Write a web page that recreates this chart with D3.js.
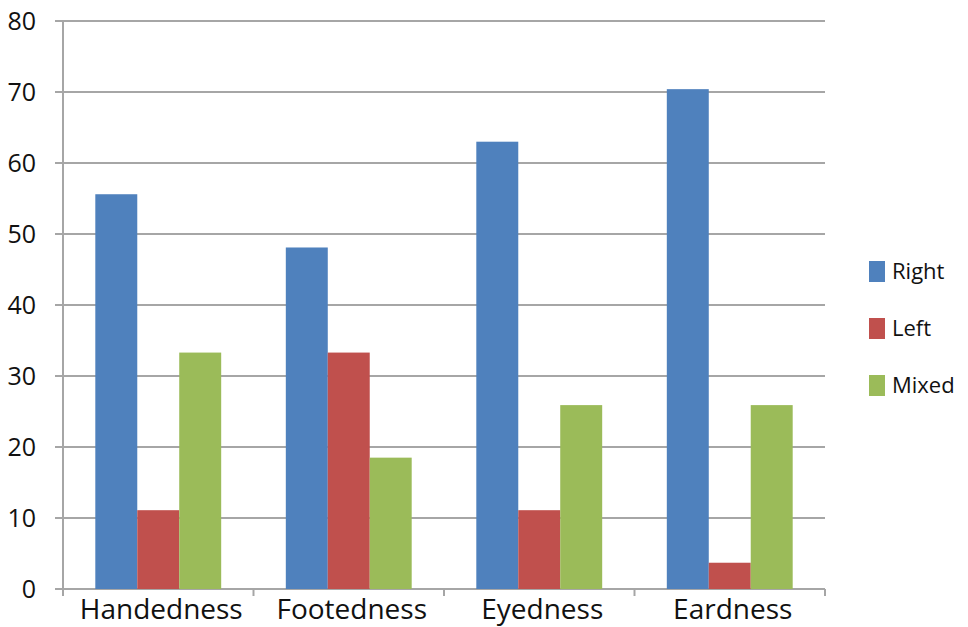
<!DOCTYPE html>
<html>
<head>
<meta charset="utf-8">
<script src="https://cdnjs.cloudflare.com/ajax/libs/d3/7.8.5/d3.min.js"></script>
<style>
  html, body { margin: 0; padding: 0; background: #fff; }
  svg { display: block; }
  text { font-family: "Open Sans", "Noto Sans", sans-serif; fill: #111; }
</style>
</head>
<body>
<svg id="chart" width="968" height="627"></svg>
<script>
// Laterality preference by trait (percent)
const categories = ["Handedness", "Footedness", "Eyedness", "Eardness"];
const seriesNames = ["Right", "Left", "Mixed"];
const rightValues = [55.6, 48.1, 63.0, 70.4];
const leftValues  = [11.1, 33.3, 11.1, 3.7];
const mixedValues = [33.3, 18.5, 25.9, 25.9];
const yTicks = [0, 10, 20, 30, 40, 50, 60, 70, 80];
const seriesColors = ["#4F81BD", "#C0504D", "#9BBB59"];

const valuesBySeries = [rightValues, leftValues, mixedValues];
const rows = categories.map((c, i) => ({
  category: c,
  values: seriesNames.map((s, j) => ({ series: s, value: valuesBySeries[j][i] }))
}));

const svg = d3.select("#chart");
const plot = { left: 63, right: 825, top: 21, bottom: 589 };
const gridColor = "#a6a6a6";

const x0 = d3.scaleBand().domain(categories).range([plot.left, plot.right]).padding(0);
const x1 = d3.scaleBand().domain(seriesNames).range([0, x0.bandwidth()])
  .paddingInner(0).paddingOuter(0.77);
const y = d3.scaleLinear().domain([0, 80]).range([plot.bottom, plot.top]);
const color = d3.scaleOrdinal().domain(seriesNames).range(seriesColors);

// Horizontal gridlines with short ticks left of the axis
svg.append("g").selectAll("line").data(yTicks).join("line")
  .attr("x1", plot.left - 8).attr("x2", plot.right)
  .attr("y1", d => y(d)).attr("y2", d => y(d))
  .attr("stroke", gridColor).attr("stroke-width", 2);

// Bars
const groups = svg.append("g").selectAll("g").data(rows).join("g")
  .attr("transform", d => `translate(${x0(d.category)},0)`);
groups.selectAll("rect").data(d => d.values).join("rect")
  .attr("x", d => x1(d.series))
  .attr("width", x1.bandwidth())
  .attr("y", d => y(d.value))
  .attr("height", d => y(0) - y(d.value))
  .attr("fill", d => color(d.series));

// Value axis line
svg.append("line")
  .attr("x1", plot.left).attr("x2", plot.left)
  .attr("y1", plot.top).attr("y2", plot.bottom)
  .attr("stroke", gridColor).attr("stroke-width", 2);

// Category axis ticks at band boundaries
const boundaries = categories.map(c => x0(c)).concat([plot.right]);
svg.append("g").selectAll("line").data(boundaries).join("line")
  .attr("x1", d => d).attr("x2", d => d)
  .attr("y1", plot.bottom).attr("y2", plot.bottom + 7)
  .attr("stroke", gridColor).attr("stroke-width", 2);

// Y tick labels
svg.append("g").selectAll("text").data(yTicks).join("text")
  .attr("x", 36).attr("y", d => y(d))
  .attr("text-anchor", "end")
  .attr("dy", "0.35em")
  .attr("font-size", 25)
  .text(d => d);

// Category labels
svg.append("g").selectAll("text").data(categories).join("text")
  .attr("x", d => x0(d) + x0.bandwidth() / 2 + 3)
  .attr("y", 619)
  .attr("text-anchor", "middle")
  .attr("font-size", 28)
  .text(d => d);

// Legend
const legend = svg.append("g").attr("transform", "translate(869,261)");
const item = legend.selectAll("g").data(seriesNames).join("g")
  .attr("transform", (d, i) => `translate(0,${i * 57})`);
item.append("rect").attr("width", 16).attr("height", 21).attr("fill", d => color(d));
item.append("text").attr("x", 23).attr("y", 10.5)
  .attr("dy", "0.36em").attr("font-size", 22).text(d => d);
</script>
</body>
</html>
